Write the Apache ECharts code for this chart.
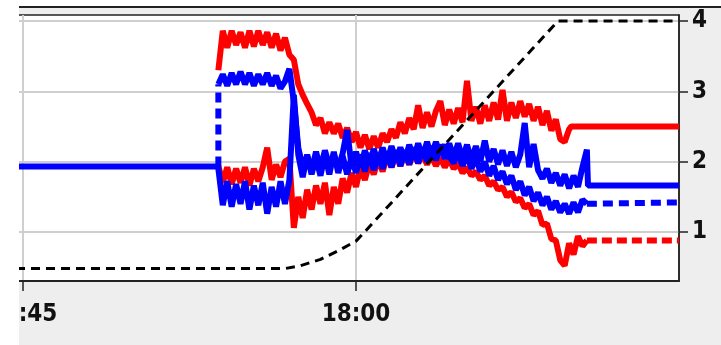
<!DOCTYPE html>
<html>
<head>
<meta charset="utf-8">
<script src="https://cdn.jsdelivr.net/npm/echarts@6/dist/echarts.min.js"></script>
<style>
  body { margin: 0; background: #fff; }
  #c { position: absolute; left: 19px; top: 6px; width: 702px; height: 337px;
       border-top: 2px solid #222; background: #eee; }
</style>
</head>
<body>
<div id="c"></div>
<script>
// minutes after 17:00
var tMin = 44.685, tMax = 74.55;
var yMin = 0.303, yMax = 4.085;
var xTicks = [45, 60];
var yTicks = [1, 2, 3, 4];

// sample times of the noisy part
var tGrid = [
  53.8,54.0,54.2,54.4,54.6,54.8,55.0,55.2,55.4,55.6,
  55.8,56.0,56.2,56.4,56.6,56.8,57.0,57.2,57.4,57.6,
  57.8,58.0,58.2,58.4,58.6,58.8,59.0,59.2,59.4,59.6,
  59.8,60.0,60.2,60.4,60.6,60.8,61.0,61.2,61.4,61.6,
  61.8,62.0,62.2,62.4,62.6,62.8,63.0,63.2,63.4,63.6,
  63.8,64.0,64.2,64.4,64.6,64.8,65.0,65.2,65.4,65.6,
  65.8,66.0,66.2,66.4,66.6,66.8,67.0,67.2,67.4,67.6,
  67.8,68.0,68.2,68.4,68.6,68.8,69.0,69.2,69.4,69.6,
  69.8,70.0,70.2,70.4
];

var redUpper = [
  3.30,3.86,3.62,3.86,3.66,3.84,3.62,3.86,3.64,3.86,
  3.66,3.84,3.62,3.82,3.58,3.76,3.52,3.45,3.10,2.95,
  2.82,2.70,2.52,2.62,2.40,2.56,2.40,2.54,2.34,2.48,
  2.28,2.42,2.20,2.38,2.18,2.36,2.20,2.40,2.28,2.46,
  2.34,2.56,2.40,2.62,2.46,2.80,2.48,2.70,2.50,2.72,
  2.86,2.52,2.74,2.54,2.76,2.56,3.15,2.58,2.78,2.54,
  2.80,2.58,2.84,2.60,3.02,2.58,2.84,2.62,2.86,2.64,
  2.82,2.58,2.78,2.52,2.72,2.44,2.60,2.32,2.28,2.46
];
var redUpperTail = [[69.7, 2.5], [tMax, 2.5]];

var redLower = [
  1.94,1.70,1.92,1.68,1.90,1.70,1.92,1.66,1.90,1.72,
  1.92,2.20,1.74,1.96,1.78,2.00,2.04,1.06,1.50,1.20,
  1.60,1.32,1.66,1.40,1.70,1.24,1.64,1.40,1.76,1.56,
  1.84,1.64,1.92,1.74,1.98,1.82,2.04,1.86,2.08,1.92,
  2.10,1.94,2.10,1.96,2.12,1.98,2.10,1.96,2.08,1.94,
  2.06,1.92,2.04,1.90,1.98,1.84,1.92,1.80,1.86,1.74,
  1.80,1.66,1.72,1.60,1.64,1.50,1.57,1.43,1.48,1.34,
  1.40,1.24,1.30,1.10,1.12,0.90,0.88,0.60,0.52,0.84,
  0.68,0.94,0.80,0.88
];
var redLowerTail = [[70.4, 0.88], [tMax, 0.88]];

var blueSolidHead = [[tMin, 1.93], [53.78, 1.93]];
var blueSolid = [
  1.90,1.38,1.72,1.36,1.68,1.40,1.72,1.32,1.66,1.38,
  1.70,1.26,1.64,1.36,1.72,1.40,1.74,2.95,2.10,1.78,
  2.10,1.82,2.06,1.80,2.10,1.82,2.14,1.84,2.08,1.82,
  2.06,1.84,2.10,1.86,2.12,1.88,2.10,1.90,2.14,1.92,
  2.16,1.94,2.16,1.96,2.20,1.98,2.20,2.00,2.22,2.02,
  2.24,2.04,2.26,2.06,2.26,2.04,2.24,2.02,2.22,2.00,
  2.30,2.00,2.18,1.96,2.16,1.94,2.14,1.92,2.10,2.55,
  1.92,2.25,1.88,1.76,1.90,1.70,1.84,1.66,1.82,1.62,
  1.80,1.64,1.92,2.17
];
var blueSolidTail = [[70.45, 1.66], [tMax, 1.66]];

var blueJump = [[53.8, 1.93], [53.8, 3.10]];
var blueDashed = [
  3.10,3.24,3.08,3.26,3.10,3.28,3.10,3.26,3.08,3.24,
  3.10,3.26,3.08,3.22,3.04,3.14,3.32,2.85,2.20,1.92,
  2.08,1.88,2.14,1.90,2.16,1.94,2.10,1.90,2.12,2.45,
  1.94,2.14,1.92,2.16,1.96,2.18,1.98,2.20,2.00,2.22,
  2.02,2.20,2.02,2.24,2.04,2.26,2.06,2.28,2.08,2.28,
  2.10,2.24,2.08,1.98,2.14,1.94,2.10,1.90,2.06,1.86,
  2.00,1.80,1.94,1.74,1.86,1.68,1.80,1.60,1.72,1.52,
  1.64,1.44,1.56,1.38,1.50,1.32,1.44,1.28,1.40,1.26,
  1.42,1.28,1.46,1.40
];
var blueDashedTail = [[70.4, 1.40], [tMax, 1.42]];

var blackT = [tMin, 56.8, 57.5, 58.4, 59.3, 60.0, 60.3, 69.1, tMax];
var blackV = [0.48, 0.48, 0.52, 0.61, 0.75, 0.87, 0.97, 4.0, 4.0];

function onGrid(vals) {
  return vals.map(function (v, i) { return [tGrid[i], v]; });
}
function fmtTime(v) {
  var h = 17 + Math.floor(v / 60);
  var m = Math.round(v % 60);
  return h + ':' + (m < 10 ? '0' : '') + m;
}

var labelFont = {
  fontFamily: 'DejaVu Sans Condensed',
  fontWeight: 'bold',
  fontSize: 24,
  color: '#111'
};
var RED = '#ff0000', BLUE = '#0000ff';

function line(data, color, width, dash) {
  return {
    type: 'line', data: data, symbol: 'none', silent: true,
    lineStyle: { color: color, width: width, type: dash ? dash : 'solid' }
  };
}

var chart = echarts.init(document.getElementById('c'));
chart.setOption({
  animation: false,
  grid: {
    left: -3, right: 42, top: 7, bottom: 64,
    show: true, backgroundColor: '#fff', borderColor: '#222', borderWidth: 1.5,
    containLabel: false, outerBoundsMode: 'none'
  },
  xAxis: {
    type: 'value', min: tMin, max: tMax,
    axisLine: { show: true, lineStyle: { color: '#222', width: 2 } },
    axisTick: { show: true, customValues: xTicks, length: 10, lineStyle: { color: '#222', width: 1.5 } },
    axisLabel: Object.assign({ customValues: xTicks, formatter: fmtTime, margin: 22 }, labelFont),
    splitLine: { show: true, lineStyle: { color: '#cfcfcf', width: 2 } }
  },
  yAxis: {
    type: 'value', position: 'right', min: yMin, max: yMax,
    axisLine: { show: true, lineStyle: { color: '#222', width: 1.5 } },
    axisTick: { show: true, customValues: yTicks, length: 9, lineStyle: { color: '#222', width: 1.5 } },
    axisLabel: Object.assign({ customValues: yTicks, margin: 13 }, labelFont),
    splitLine: { show: true, lineStyle: { color: '#cfcfcf', width: 2 } }
  },
  series: [
    line(onGrid(redUpper).concat(redUpperTail), RED, 6),
    line(onGrid(redLower), RED, 6),
    line(redLowerTail, RED, 6, [10, 5]),
    line(blueSolidHead.concat(onGrid(blueSolid), blueSolidTail), BLUE, 6),
    line(blueJump, BLUE, 6, [10, 6]),
    line(onGrid(blueDashed), BLUE, 6),
    line(blueDashedTail, BLUE, 6, [10, 6]),
    line(blackT.map(function (t, i) { return [t, blackV[i]]; }), '#000', 3, [9, 6])
  ]
});
</script>
</body>
</html>
